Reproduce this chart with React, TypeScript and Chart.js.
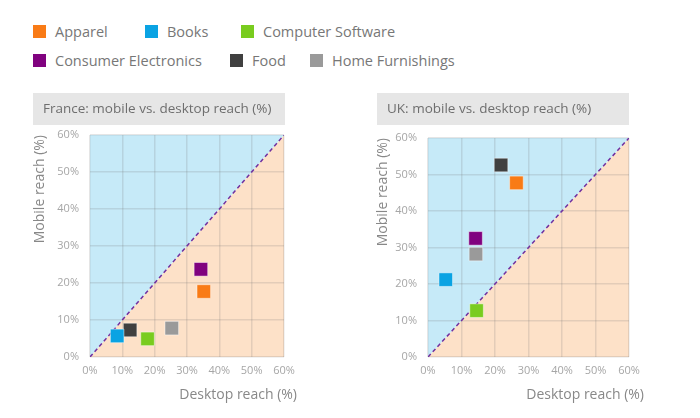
import React, { useEffect, useRef } from 'react';
import { Chart, registerables } from 'chart.js';

Chart.register(...registerables);

const categories = ['Apparel', 'Books', 'Computer Software', 'Consumer Electronics', 'Food', 'Home Furnishings'];
const categoryColors = ['#f97b16', '#0aa3e3', '#79cc1f', '#80027f', '#404040', '#9a9a9a'];
const franceDesktop = [35.2, 8.4, 17.8, 34.3, 12.4, 25.3];
const franceMobile = [17.7, 5.7, 4.9, 23.7, 7.3, 7.8];
const ukDesktop = [26.4, 5.3, 14.5, 14.2, 21.8, 14.3];
const ukMobile = [47.7, 21.2, 12.7, 32.5, 52.6, 28.2];
const axisTicks = [0, 10, 20, 30, 40, 50, 60];
const parityLine = [0, 60];
const chartTitles = ['France: mobile vs. desktop reach (%)', 'UK: mobile vs. desktop reach (%)'];
const xAxisTitle = 'Desktop reach (%)';
const yAxisTitle = 'Mobile reach (%)';

// layout (positions only)
const legendLayout = [
  { row: 0, left: 33 },
  { row: 0, left: 145 },
  { row: 0, left: 241 },
  { row: 1, left: 33 },
  { row: 1, left: 230 },
  { row: 1, left: 310 },
];

type Geo = {
  left: number; top: number; width: number; height: number;
  aL: number; aR: number; aT: number; aB: number;
  boxL: number; boxR: number; yTitleX: number; xTitleEnd: number;
};

const geoLeft: Geo = { left: 0, top: 88, width: 345, height: 330, aL: 90, aR: 284, aT: 47, aB: 269, boxL: 33, boxR: 285, yTitleX: 40, xTitleEnd: 297 };
const geoRight: Geo = { left: 345, top: 88, width: 355, height: 330, aL: 83, aR: 284, aT: 50, aB: 269, boxL: 32, boxR: 284, yTitleX: 38, xTitleEnd: 299 };

const FONT = '"Open Sans", "DejaVu Sans", sans-serif';

function Panel({ desktop, mobile, title, geo }: { desktop: number[]; mobile: number[]; title: string; geo: Geo }) {
  const ref = useRef<HTMLCanvasElement | null>(null);
  useEffect(() => {
    const canvas = ref.current;
    if (!canvas) return;
    const decor = {
      id: 'decor',
      beforeDraw(chart: any) {
        const ctx = chart.ctx;
        ctx.save();
        ctx.fillStyle = '#e6e6e6';
        ctx.fillRect(geo.boxL, 5, geo.boxR - geo.boxL, 32);
        ctx.fillStyle = '#6e6e6e';
        ctx.font = `13.5px ${FONT}`;
        ctx.textBaseline = 'middle';
        ctx.textAlign = 'left';
        ctx.fillText(title, geo.boxL + 10, 21);
        ctx.restore();
      },
      afterDraw(chart: any) {
        const ctx = chart.ctx;
        const a = chart.chartArea;
        ctx.save();
        ctx.fillStyle = '#888888';
        ctx.font = `14px ${FONT}`;
        ctx.textBaseline = 'middle';
        ctx.textAlign = 'right';
        ctx.fillText(xAxisTitle, geo.xTitleEnd, 307);
        ctx.translate(geo.yTitleX, a.top);
        ctx.rotate(-Math.PI / 2);
        ctx.textAlign = 'right';
        ctx.fillText(yAxisTitle, 0, 0);
        ctx.restore();
      },
    };
    const line = parityLine.map((v) => ({ x: v, y: v }));
    const datasets: any[] = [
      { type: 'line', data: line, fill: 'end', backgroundColor: '#c6eaf8', borderWidth: 0, pointRadius: 0, order: 30 },
      { type: 'line', data: line, fill: 'start', backgroundColor: '#fde1c8', borderWidth: 0, pointRadius: 0, order: 30 },
      { type: 'line', data: line, fill: false, borderColor: '#7030a0', borderDash: [4, 3], borderWidth: 1.5, pointRadius: 0, order: 20 },
      ...categories.map((c, i) => ({
        type: 'scatter',
        label: c,
        data: [{ x: desktop[i], y: mobile[i] }],
        pointStyle: 'rect',
        pointRadius: 9.6,
        backgroundColor: categoryColors[i],
        borderColor: 'rgba(255,255,255,0.45)',
        borderWidth: 1,
        order: 0,
      })),
    ];
    const tickFont = { family: FONT, size: 11 };
    const chart = new Chart(canvas, {
      type: 'scatter',
      data: { datasets },
      options: {
        animation: false,
        responsive: false,
        events: [],
        layout: { padding: { top: geo.aT, left: 0, right: geo.width - geo.aR, bottom: 0 } },
        plugins: {
          legend: { display: false },
          tooltip: { enabled: false },
          filler: { drawTime: 'beforeDraw' },
        } as any,
        scales: {
          x: {
            type: 'linear', min: 0, max: 60,
            afterFit: (s: any) => { s.height = geo.height - geo.aB; },
            afterBuildTicks: (s: any) => { s.ticks = axisTicks.map((v) => ({ value: v })); },
            ticks: { callback: (v: any) => v + '%', color: '#a6a6a6', font: tickFont, padding: 7, maxRotation: 0 },
            grid: { color: 'rgba(110,110,110,0.18)', lineWidth: 1.5, drawTicks: false },
            border: { display: false },
          },
          y: {
            type: 'linear', min: 0, max: 60,
            afterFit: (s: any) => { s.width = geo.aL; },
            afterBuildTicks: (s: any) => { s.ticks = axisTicks.map((v) => ({ value: v })); },
            ticks: { callback: (v: any) => v + '%', color: '#a6a6a6', font: tickFont, padding: 11 },
            grid: { color: 'rgba(110,110,110,0.18)', lineWidth: 1.5, drawTicks: false },
            border: { display: false },
          },
        },
      } as any,
      plugins: [decor],
    });
    return () => chart.destroy();
  }, []);
  return (
    <canvas
      ref={ref}
      width={geo.width}
      height={geo.height}
      style={{ position: 'absolute', left: geo.left, top: geo.top, width: geo.width, height: geo.height }}
    />
  );
}

export default function App() {
  return (
    <div style={{ position: 'fixed', left: 0, top: 0, width: 700, height: 418, background: '#ffffff', overflow: 'hidden', fontFamily: FONT }}>
      {categories.map((c, i) => (
        <div
          key={c}
          style={{
            position: 'absolute',
            left: legendLayout[i].left,
            top: legendLayout[i].row === 0 ? 22 : 51,
            height: 18,
            display: 'flex',
            alignItems: 'center',
            whiteSpace: 'nowrap',
          }}
        >
          <span style={{ display: 'inline-block', width: 13, height: 13, background: categoryColors[i], marginRight: 9 }} />
          <span style={{ fontSize: 14.5, color: '#777777' }}>{c}</span>
        </div>
      ))}
      <Panel desktop={franceDesktop} mobile={franceMobile} title={chartTitles[0]} geo={geoLeft} />
      <Panel desktop={ukDesktop} mobile={ukMobile} title={chartTitles[1]} geo={geoRight} />
    </div>
  );
}
